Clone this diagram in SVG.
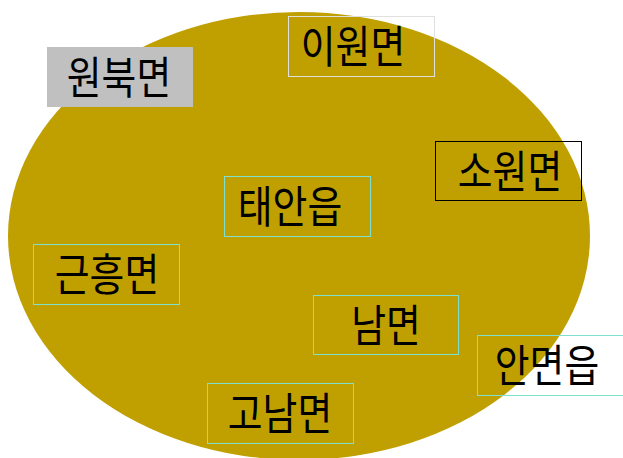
<svg xmlns="http://www.w3.org/2000/svg" width="623" height="458" viewBox="0 0 623 458">
<style>
.b{fill:none;stroke:#80e0d0;stroke-width:1}
.t{font-family:"Noto Sans CJK KR","Noto Sans CJK SC",sans-serif;font-size:44px;fill:#000;text-anchor:middle}
</style>
<rect width="623" height="458" fill="#fff"/>
<ellipse cx="299" cy="236" rx="291" ry="224" fill="#c0a000"/>
<g id="connectors"></g>
<g id="n1"><rect x="47" y="47" width="146" height="60" fill="#c0c0c0"/><text class="t" transform="translate(119,94) scale(0.86,1)">원북면</text></g>
<g id="n2"><rect x="288.5" y="16.5" width="146" height="60" fill="none" stroke="#e0e0e0"/><text class="t" transform="translate(353,63) scale(0.86,1)">이원면</text></g>
<g id="n3"><rect x="435.5" y="141.5" width="146" height="59" fill="none" stroke="#000"/><text class="t" transform="translate(510,188) scale(0.86,1)">소원면</text></g>
<g id="n4"><rect class="b" x="224.5" y="176.5" width="146" height="60"/><text class="t" transform="translate(290,223) scale(0.86,1)">태안읍</text></g>
<g id="n5"><rect class="b" x="33.5" y="244.5" width="146" height="60"/><text class="t" transform="translate(107,291) scale(0.86,1)">근흥면</text></g>
<g id="n6"><rect class="b" x="313.5" y="295.5" width="145" height="59"/><text class="t" transform="translate(386,342) scale(0.86,1)">남면</text></g>
<g id="n7"><rect class="b" x="477.5" y="335.5" width="146" height="60"/><text class="t" transform="translate(547,382) scale(0.86,1)">안면읍</text></g>
<g id="n8"><rect class="b" x="207.5" y="383.5" width="146" height="60"/><text class="t" transform="translate(280,430) scale(0.86,1)">고남면</text></g>
</svg>
